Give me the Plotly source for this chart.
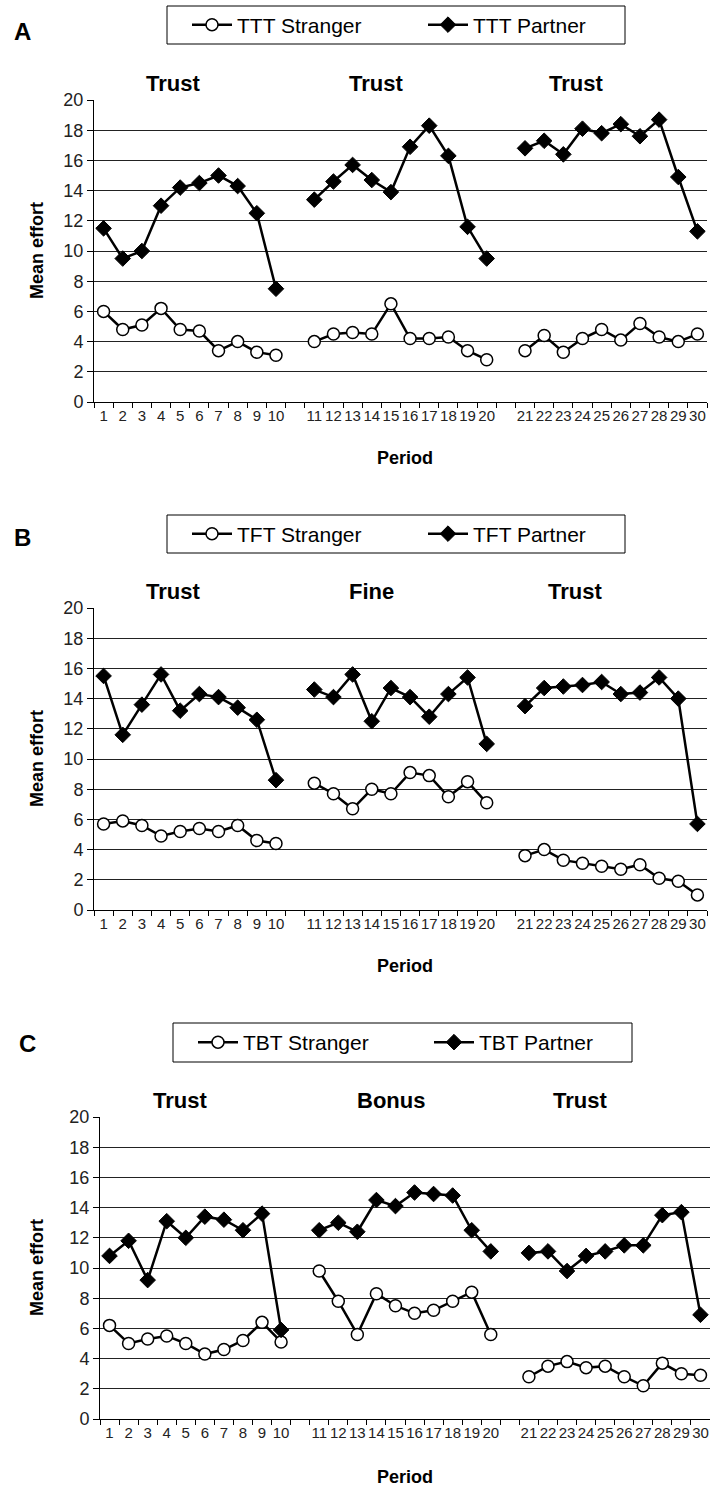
import plotly.graph_objects as go

# ---------------- data ----------------
period_labels = [str(p) for p in range(1, 31)]
block_titles_a = ["Trust", "Trust", "Trust"]
block_titles_b = ["Trust", "Fine", "Trust"]
block_titles_c = ["Trust", "Bonus", "Trust"]

ttt_stranger = [6.0, 4.8, 5.1, 6.2, 4.8, 4.7, 3.4, 4.0, 3.3, 3.1,
                4.0, 4.5, 4.6, 4.5, 6.5, 4.2, 4.2, 4.3, 3.4, 2.8,
                3.4, 4.4, 3.3, 4.2, 4.8, 4.1, 5.2, 4.3, 4.0, 4.5]
ttt_partner = [11.5, 9.5, 10.0, 13.0, 14.2, 14.5, 15.0, 14.3, 12.5, 7.5,
               13.4, 14.6, 15.7, 14.7, 13.9, 16.9, 18.3, 16.3, 11.6, 9.5,
               16.8, 17.3, 16.4, 18.1, 17.8, 18.4, 17.6, 18.7, 14.9, 11.3]
tft_stranger = [5.7, 5.9, 5.6, 4.9, 5.2, 5.4, 5.2, 5.6, 4.6, 4.4,
                8.4, 7.7, 6.7, 8.0, 7.7, 9.1, 8.9, 7.5, 8.5, 7.1,
                3.6, 4.0, 3.3, 3.1, 2.9, 2.7, 3.0, 2.1, 1.9, 1.0]
tft_partner = [15.5, 11.6, 13.6, 15.6, 13.2, 14.3, 14.1, 13.4, 12.6, 8.6,
               14.6, 14.1, 15.6, 12.5, 14.7, 14.1, 12.8, 14.3, 15.4, 11.0,
               13.5, 14.7, 14.8, 14.9, 15.1, 14.3, 14.4, 15.4, 14.0, 5.7]
tbt_stranger = [6.2, 5.0, 5.3, 5.5, 5.0, 4.3, 4.6, 5.2, 6.4, 5.1,
                9.8, 7.8, 5.6, 8.3, 7.5, 7.0, 7.2, 7.8, 8.4, 5.6,
                2.8, 3.5, 3.8, 3.4, 3.5, 2.8, 2.2, 3.7, 3.0, 2.9]
tbt_partner = [10.8, 11.8, 9.2, 13.1, 12.0, 13.4, 13.2, 12.5, 13.6, 5.9,
               12.5, 13.0, 12.4, 14.5, 14.1, 15.0, 14.9, 14.8, 12.5, 11.1,
               11.0, 11.1, 9.8, 10.8, 11.1, 11.5, 11.5, 13.5, 13.7, 6.9]

# category axis: three blocks of ten periods separated by blank slots
categories = period_labels[0:10] + [" "] + period_labels[10:20] + ["  "] + period_labels[20:30]


def with_gaps(vals):
    return list(vals[0:10]) + [None] + list(vals[10:20]) + [None] + list(vals[20:30])


# ---------------- layout helpers ----------------
W, H = 710, 1490
FONT = "Arial, Liberation Sans, sans-serif"


def fx(px):
    return px / W


def fy(py):
    return 1 - py / H


panels = [
    dict(letter="A", s=ttt_stranger, p=ttt_partner, pre="TTT", titles=block_titles_a,
         box=(94, 100, 707, 402), leg=(167, 6, 625, 44), let=(22, 32),
         tx=(173, 376, 576), ty=83, period_y=458),
    dict(letter="B", s=tft_stranger, p=tft_partner, pre="TFT", titles=block_titles_b,
         box=(94, 608, 707, 910), leg=(167, 515, 625, 553), let=(22, 538),
         tx=(173, 371, 575), ty=592, period_y=966),
    dict(letter="C", s=tbt_stranger, p=tbt_partner, pre="TBT", titles=block_titles_c,
         box=(100, 1117, 710, 1419), leg=(173, 1023, 632, 1062), let=(27, 1043),
         tx=(180, 391, 580), ty=1100, period_y=1477),
]

fig = go.Figure()
shapes = []
annotations = []
layout = dict(width=W, height=H, margin=dict(l=0, r=0, t=0, b=0, pad=0),
              paper_bgcolor="white", plot_bgcolor="white", showlegend=True,
              font=dict(family=FONT, color="black"))

for i, pn in enumerate(panels):
    k = "" if i == 0 else str(i + 1)
    xa, ya = "x" + k, "y" + k
    legname = "legend" + k
    l, t, r, b = pn["box"]

    fig.add_trace(go.Scatter(
        x=categories, y=with_gaps(pn["s"]), xaxis=xa, yaxis=ya,
        name=pn["pre"] + " Stranger", legend=legname, mode="lines+markers",
        connectgaps=False, cliponaxis=False,
        line=dict(color="black", width=2.5),
        marker=dict(symbol="circle", size=12, color="white",
                    line=dict(color="black", width=1.5))))
    fig.add_trace(go.Scatter(
        x=categories, y=with_gaps(pn["p"]), xaxis=xa, yaxis=ya,
        name=pn["pre"] + " Partner", legend=legname, mode="lines+markers",
        connectgaps=False, cliponaxis=False,
        line=dict(color="black", width=2.5),
        marker=dict(symbol="diamond", size=12, color="black",
                    line=dict(color="black", width=1))))

    layout["xaxis" + k] = dict(
        domain=[fx(l), fx(r)], anchor=ya, type="category",
        categoryorder="array", categoryarray=categories,
        range=[-0.5, len(categories) - 0.5], showline=True, linecolor="black", linewidth=1,
        ticks="outside", tickson="boundaries", ticklen=5, tickcolor="black",
        tickangle=0, tickfont=dict(size=15, family=FONT, color="#222"),
        showgrid=False, zeroline=False, fixedrange=True, automargin=False)
    layout["yaxis" + k] = dict(
        domain=[fy(b), fy(t)], anchor=xa, range=[0, 20], dtick=2, tick0=0,
        showline=True, linecolor="black", linewidth=1,
        ticks="outside", ticklen=6, tickcolor="black",
        tickfont=dict(size=18, family=FONT, color="#222"),
        showgrid=True, gridcolor="#222", gridwidth=1, zeroline=False,
        fixedrange=True, automargin=False)

    lx0, ly0, lx1, ly1 = pn["leg"]
    shapes.append(dict(type="rect", xref="paper", yref="paper",
                       x0=fx(lx0), x1=fx(lx1), y0=fy(ly1), y1=fy(ly0),
                       line=dict(color="black", width=1), fillcolor="white",
                       layer="below"))
    layout[legname] = dict(
        x=fx(lx0 + 20), xanchor="left", y=fy((ly0 + ly1) / 2), yanchor="middle",
        orientation="h", bgcolor="rgba(0,0,0,0)", borderwidth=0,
        font=dict(size=21, family=FONT, color="black"),
        itemwidth=40, entrywidth=181, entrywidthmode="pixels",
        itemclick=False, itemdoubleclick=False)

    annotations.append(dict(text="<b>%s</b>" % pn["letter"], x=fx(pn["let"][0]),
                            y=fy(pn["let"][1]), xref="paper", yref="paper",
                            showarrow=False, xanchor="center", yanchor="middle",
                            font=dict(size=24, family=FONT, color="black")))
    for txt, tx in zip(pn["titles"], pn["tx"]):
        annotations.append(dict(text="<b>%s</b>" % txt, x=fx(tx), y=fy(pn["ty"]),
                                xref="paper", yref="paper", showarrow=False,
                                xanchor="center", yanchor="middle",
                                font=dict(size=22, family=FONT, color="black")))
    annotations.append(dict(text="<b>Mean effort</b>", x=fx(37), y=fy((t + b) / 2),
                            xref="paper", yref="paper", showarrow=False,
                            textangle=-90, xanchor="center", yanchor="middle",
                            font=dict(size=18, family=FONT, color="black")))
    annotations.append(dict(text="<b>Period</b>", x=fx(405), y=fy(pn["period_y"]),
                            xref="paper", yref="paper", showarrow=False,
                            xanchor="center", yanchor="middle",
                            font=dict(size=18, family=FONT, color="black")))

layout["shapes"] = shapes
layout["annotations"] = annotations
fig.update_layout(**layout)

fig.write_html("out.html", config={"displayModeBar": False})
